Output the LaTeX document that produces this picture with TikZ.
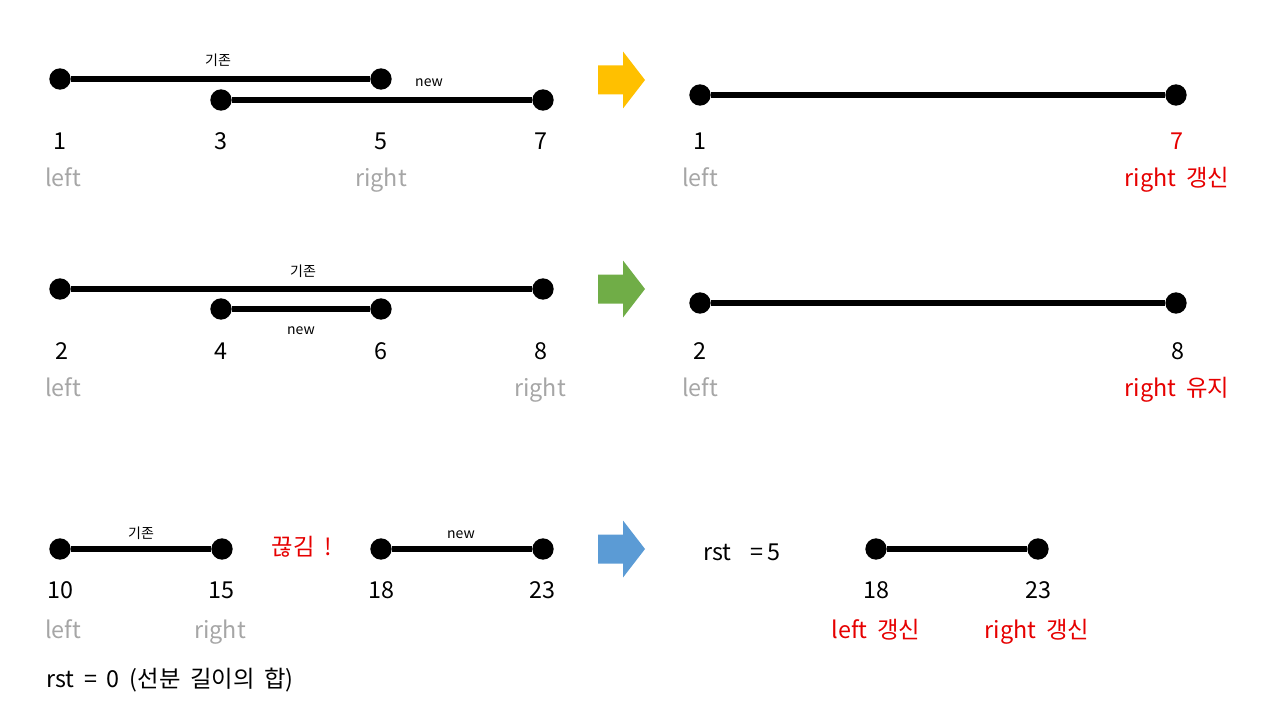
\documentclass[tikz,border=0pt]{standalone}
\usepackage{fontspec}
\setmainfont{Noto Sans CJK KR}
\definecolor{ared}{HTML}{E60000}
\definecolor{agray}{HTML}{A6A6A6}
\definecolor{ayellow}{HTML}{FFC000}
\definecolor{agreen}{HTML}{70AD47}
\definecolor{ablue}{HTML}{5B9BD5}
\tikzset{
  dot/.style={circle,fill=black,inner sep=0pt,minimum size=16},
  seg/.style={line width=3.8pt},
  num/.style={font=\fontsize{17.5}{20}\selectfont,inner sep=0pt,anchor=base},
  lbl/.style={font=\fontsize{17.5}{20}\selectfont,text=agray,inner sep=0pt,anchor=base},
  rlbl/.style={font=\fontsize{17.5}{20}\selectfont,text=ared,inner sep=0pt,anchor=base},
  small/.style={font=\fontsize{10.5}{12}\selectfont,inner sep=0pt,anchor=base},
}
\newcommand{\bigarrow}[3]{%
  \fill[#3] (#1,#2-14.5) -- (#1+25,#2-14.5) -- (#1+25,#2-28.5) -- (#1+47,#2) -- (#1+25,#2+28.5) -- (#1+25,#2+14.5) -- (#1,#2+14.5) -- cycle;}
\newcommand{\wsp}{\hspace{0.42em}}
\begin{document}
\begin{tikzpicture}[x=0.75pt,y=-0.75pt]
\useasboundingbox (0,0) rectangle (1280,720);
% ---------- Row 1 ----------
\node[dot] (a1) at (60,79) {};
\node[dot] (a5) at (381,79) {};
\node[dot] (a3) at (221,100) {};
\node[dot] (a7) at (543,100) {};
\draw[seg] (a1) -- (a5);
\draw[seg] (a3) -- (a7);
\node[small] (ga) at (218,66) {기존};
\node[small] (na) at (429,87) {new};
\node[num] (t1) at (60,150) {1};
\node[num] (t3) at (221,150) {3};
\node[num] (t5) at (381,150) {5};
\node[num] (t7) at (541,150) {7};
\node[lbl] (la) at (63,187) {left};
\node[lbl] (ra) at (381,187) {right};
\bigarrow{598}{80}{ayellow}
\node[dot] (b1) at (700,95) {};
\node[dot] (b7) at (1176,95) {};
\draw[seg] (b1) -- (b7);
\node[num] (u1) at (700,150) {1};
\node[num,text=ared] (u7) at (1177,150) {7};
\node[lbl] (lb) at (700,187) {left};
\node[rlbl] (rb) at (1177,187) {right\wsp 갱신};
% ---------- Row 2 ----------
\node[dot] (c2) at (60,289) {};
\node[dot] (c8) at (543,289) {};
\node[dot] (c4) at (221,309) {};
\node[dot] (c6) at (381,309) {};
\draw[seg] (c2) -- (c8);
\draw[seg] (c4) -- (c6);
\node[small] (gc) at (303,276) {기존};
\node[small] (nc) at (301,334) {new};
\node[num] (v2) at (62,359) {2};
\node[num] (v4) at (221,359) {4};
\node[num] (v6) at (381,359) {6};
\node[num] (v8) at (541,359) {8};
\node[lbl] (lc) at (63,396) {left};
\node[lbl] (rc) at (540,396) {right};
\bigarrow{598}{289}{agreen}
\node[dot] (d2) at (700,303) {};
\node[dot] (d8) at (1176,303) {};
\draw[seg] (d2) -- (d8);
\node[num] (w2) at (700,359) {2};
\node[num] (w8) at (1178,359) {8};
\node[lbl] (ld) at (700,396) {left};
\node[rlbl] (rd) at (1177,396) {right\wsp 유지};
% ---------- Row 3 ----------
\node[dot] (e10) at (60,549) {};
\node[dot] (e15) at (222,549) {};
\node[dot] (e18) at (381,549) {};
\node[dot] (e23) at (543,549) {};
\draw[seg] (e10) -- (e15);
\draw[seg] (e18) -- (e23);
\node[small] (ge) at (141,538) {기존};
\node[small] (ne) at (461,538) {new};
\node[rlbl] (cut) at (302,555) {끊김\wsp !};
\node[num] (x10) at (60,598) {10};
\node[num] (x15) at (221,598) {15};
\node[num] (x18) at (381,598) {18};
\node[num] (x23) at (542,598) {23};
\node[lbl] (le) at (63,638) {left};
\node[lbl] (re) at (220,638) {right};
\node[num,anchor=base west] (rst0) at (46,687) {rst\wsp =\wsp 0\wsp (선분\wsp 길이의\wsp 합)};
\bigarrow{598}{549}{ablue}
\node[num] (rst5) at (742,560) {rst\wsp\, =\,5};
\node[dot] (f18) at (876,549) {};
\node[dot] (f23) at (1038,549) {};
\draw[seg] (f18) -- (f23);
\node[num] (y18) at (876,598) {18};
\node[num] (y23) at (1038,598) {23};
\node[rlbl] (lf) at (876,638) {left\wsp 갱신};
\node[rlbl] (rf) at (1037,638) {right\wsp 갱신};
\end{tikzpicture}
\end{document}
